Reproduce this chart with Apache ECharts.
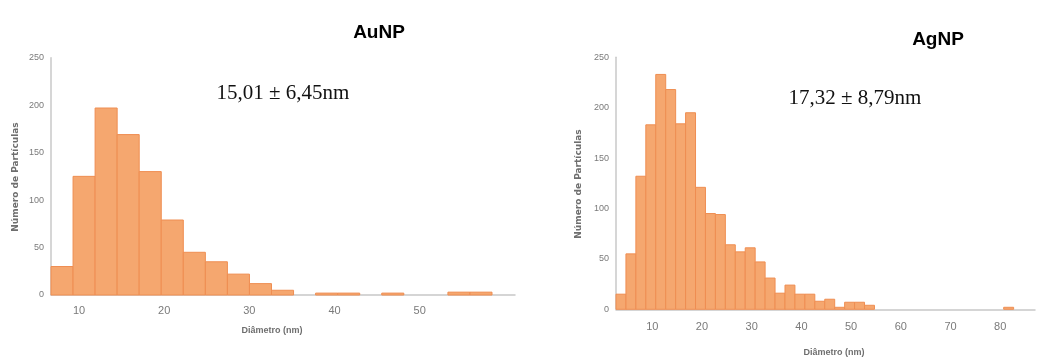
<!DOCTYPE html>
<html>
<head>
<meta charset="utf-8">
<script src="https://cdn.jsdelivr.net/npm/echarts@6/dist/echarts.min.js"></script>
<style>
  html, body { margin: 0; padding: 0; background: #fff; }
  #chart { width: 1040px; height: 358px; }
</style>
</head>
<body>
<div id="chart"></div>
<script>
// AuNP histogram (left)
const auStart = 6.7;
const auBinWidth = 2.59;
const auCounts = [30, 125, 197, 169, 130, 79, 45, 35, 22, 12, 5, 0, 2, 2, 0, 2, 0, 0, 3, 3, 0];
const auTicks = [10, 20, 30, 40, 50];

// AgNP histogram (right)
const agStart = 2.7;
const agBinWidth = 2;
const agCounts = [15, 55, 132, 183, 233, 218, 184, 195, 121, 95, 94, 64, 57, 61, 47, 31, 16, 24, 15, 15,
  8, 10, 2, 7, 7, 4, 0, 0, 0, 0, 0, 0, 0, 0, 0, 0, 0, 0, 0, 2];
const agTicks = [10, 20, 30, 40, 50, 60, 70, 80];

const yTicks = [0, 50, 100, 150, 200, 250];

const barFill = '#F5A76F';
const barEdge = '#EF8E52';
const axisGray = '#C8C8C8';
const labelGray = '#7A7A7A';

// turn counts into [x0, x1, count]
function toBins(start, width, counts) {
  return counts.map((c, i) => [start + i * width, start + (i + 1) * width, c]);
}

function renderBin(params, api) {
  const x0 = api.value(0);
  const x1 = api.value(1);
  const v = api.value(2);
  if (!v) return null;
  const p0 = api.coord([x0, v]);
  const p1 = api.coord([x1, 0]);
  return {
    type: 'rect',
    shape: { x: p0[0], y: p0[1], width: p1[0] - p0[0], height: p1[1] - p0[1] },
    style: { fill: barFill, stroke: barEdge, lineWidth: 1 }
  };
}

function xAxisFor(gridIndex, min, max, ticks, margin) {
  return {
    type: 'value', gridIndex: gridIndex, min: min, max: max,
    axisLine: { show: true, lineStyle: { color: axisGray, width: 1.5 } },
    axisTick: { show: false },
    splitLine: { show: false },
    axisLabel: {
      customValues: ticks, color: labelGray, fontSize: 11, margin: margin,
      fontFamily: 'Liberation Sans'
    }
  };
}

function yAxisFor(gridIndex) {
  return {
    type: 'value', gridIndex: gridIndex, min: 0, max: 250, interval: 50,
    axisLine: { show: true, lineStyle: { color: axisGray, width: 1.5 } },
    axisTick: { show: false },
    splitLine: { show: false },
    axisLabel: {
      customValues: yTicks, color: labelGray, fontSize: 9, margin: 7,
      fontFamily: 'Liberation Sans'
    }
  };
}

const chart = echarts.init(document.getElementById('chart'));

const yTitleStyle = {
  fill: '#6E6E6E', font: 'bold 9px "DejaVu Sans"', align: 'center', verticalAlign: 'middle'
};
const xTitleStyle = {
  fill: '#6E6E6E', font: 'bold 9px "Liberation Sans"', align: 'center', verticalAlign: 'middle'
};
const statStyle = {
  fill: '#111', font: '21px "Liberation Serif"', align: 'center', verticalAlign: 'middle'
};

chart.setOption({
  animation: false,
  title: [
    { text: 'AuNP', left: 374, top: 28, textAlign: 'center', textVerticalAlign: 'middle',
      textStyle: { fontFamily: 'Liberation Sans', fontWeight: 'bold', fontSize: 19, color: '#000' } },
    { text: 'AgNP', left: 933, top: 35, textAlign: 'center', textVerticalAlign: 'middle',
      textStyle: { fontFamily: 'Liberation Sans', fontWeight: 'bold', fontSize: 19, color: '#000' } }
  ],
  grid: [
    { left: 51, top: 57.7, width: 464, height: 237.3 },
    { left: 616, top: 57.3, width: 419, height: 252 }
  ],
  xAxis: [
    xAxisFor(0, auStart, 61.2, auTicks, 10),
    xAxisFor(1, agStart, 87, agTicks, 12)
  ],
  yAxis: [yAxisFor(0), yAxisFor(1)],
  series: [
    { type: 'custom', xAxisIndex: 0, yAxisIndex: 0, renderItem: renderBin,
      encode: { x: [0, 1], y: 2 }, data: toBins(auStart, auBinWidth, auCounts) },
    { type: 'custom', xAxisIndex: 1, yAxisIndex: 1, renderItem: renderBin,
      encode: { x: [0, 1], y: 2 }, data: toBins(agStart, agBinWidth, agCounts) }
  ],
  graphic: [
    { type: 'text', x: 16, y: 177, rotation: Math.PI / 2,
      style: Object.assign({ text: 'Número de Partículas' }, yTitleStyle) },
    { type: 'text', x: 579, y: 184, rotation: Math.PI / 2,
      style: Object.assign({ text: 'Número de Partículas' }, yTitleStyle) },
    { type: 'text', x: 272, y: 331,
      style: Object.assign({ text: 'Diâmetro (nm)' }, xTitleStyle) },
    { type: 'text', x: 834, y: 353,
      style: Object.assign({ text: 'Diâmetro (nm)' }, xTitleStyle) },
    { type: 'text', x: 283, y: 93,
      style: Object.assign({ text: '15,01 ± 6,45nm' }, statStyle) },
    { type: 'text', x: 855, y: 98,
      style: Object.assign({ text: '17,32 ± 8,79nm' }, statStyle) }
  ]
});
</script>
</body>
</html>
